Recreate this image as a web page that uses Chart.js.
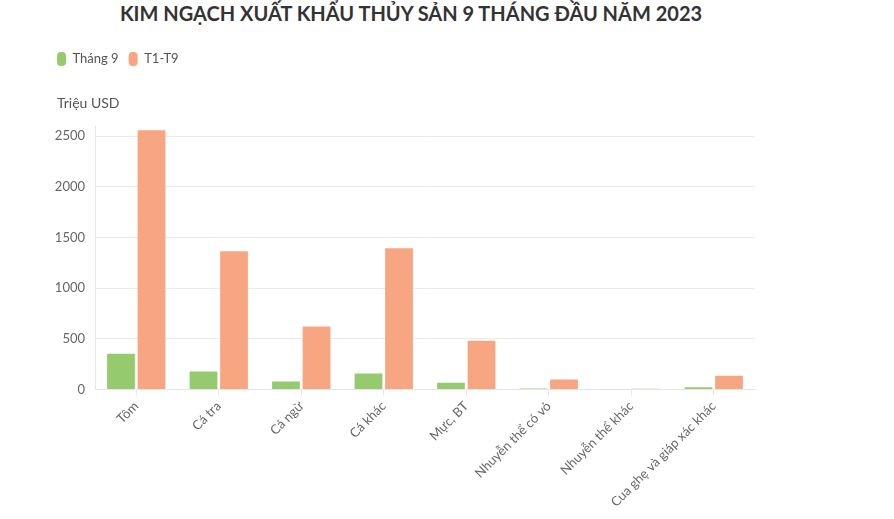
<!DOCTYPE html>
<html lang="vi">
<head>
  <meta charset="UTF-8">
  <title>Kim ngạch xuất khẩu thủy sản</title>
  <script src="https://cdn.jsdelivr.net/npm/chart.js"></script>
  <style>
    body {
      margin: 0;
      background: #fff;
      font-family: Lato, "Open Sans", sans-serif;
    }
    #title {
      width: 822px;
      height: 30px;
      line-height: 26px;
      text-align: center;
      font-weight: bold;
      font-size: 20px;
      color: #333;
    }
    #wrap {
      position: relative;
      width: 894px;
      height: 489px;
    }
  </style>
</head>
<body>
  <div id="title">KIM NGẠCH XUẤT KHẨU THỦY SẢN 9 THÁNG ĐẦU NĂM 2023</div>
  <div id="wrap"><canvas id="chart"></canvas></div>

  <script>
    const categories = ['Tôm', 'Cá tra', 'Cá ngừ', 'Cá khác', 'Mực, BT', 'Nhuyễn thể có vỏ', 'Nhuyễn thể khác', 'Cua ghẹ và giáp xác khác'];
    const thang9 = [353, 178, 79, 158, 66, 10, 1, 23];
    const t1t9 = [2559, 1364, 622, 1393, 481, 99, 7, 135];
    const yTicks = [0, 500, 1000, 1500, 2000, 2500];
    const unit = 'Triệu USD';

    // room under the legend for the unit label, drawn afterwards
    const unitLabel = {
      id: 'unitLabel',
      beforeInit(chart) {
        const fit = chart.legend.fit;
        chart.legend.fit = function () {
          fit.call(this);
          this.height += 50;
        };
      },
      afterDraw(chart) {
        const ctx = chart.ctx;
        ctx.save();
        ctx.font = '14px Lato, "Open Sans", sans-serif';
        ctx.fillStyle = '#555';
        ctx.textBaseline = 'middle';
        ctx.fillText(unit, 57, 73);
        ctx.restore();
      }
    };

    Chart.defaults.font.family = 'Lato, "Open Sans", sans-serif';
    Chart.defaults.color = '#666';

    new Chart(document.getElementById('chart'), {
      type: 'bar',
      data: {
        labels: categories,
        datasets: [{
          label: 'Tháng 9',
          data: thang9,
          backgroundColor: '#95cb6e'
        }, {
          label: 'T1-T9',
          data: t1t9,
          backgroundColor: '#f8a582'
        }]
      },
      options: {
        responsive: true,
        maintainAspectRatio: false,
        animation: false,
        layout: { padding: { left: 47, right: 139, top: 12, bottom: 6 } },
        datasets: {
          bar: { categoryPercentage: 0.74, barPercentage: 0.91 }
        },
        plugins: {
          legend: {
            align: 'start',
            labels: {
              boxWidth: 9,
              boxHeight: 14,
              useBorderRadius: true,
              borderRadius: 4,
              color: '#555',
              font: { size: 13 },
              padding: 10
            }
          },
          tooltip: { enabled: false }
        },
        scales: {
          x: {
            grid: { drawOnChartArea: false, color: '#e6e6e6', tickLength: 6, offset: false },
            border: { color: '#e6e6e6' },
            ticks: { maxRotation: 45, minRotation: 45, font: { size: 13 }, color: '#666' }
          },
          y: {
            min: 0,
            max: 2600,
            afterFit(s) { s.width = 48; },
            afterBuildTicks(s) { s.ticks = yTicks.map(v => ({ value: v })); },
            grid: { color: '#ebebeb', drawTicks: false },
            border: { color: '#e6e6e6' },
            ticks: { padding: 10, font: { size: 13 }, color: '#666', callback: v => String(v) }
          }
        }
      },
      plugins: [unitLabel]
    });
  </script>
</body>
</html>
